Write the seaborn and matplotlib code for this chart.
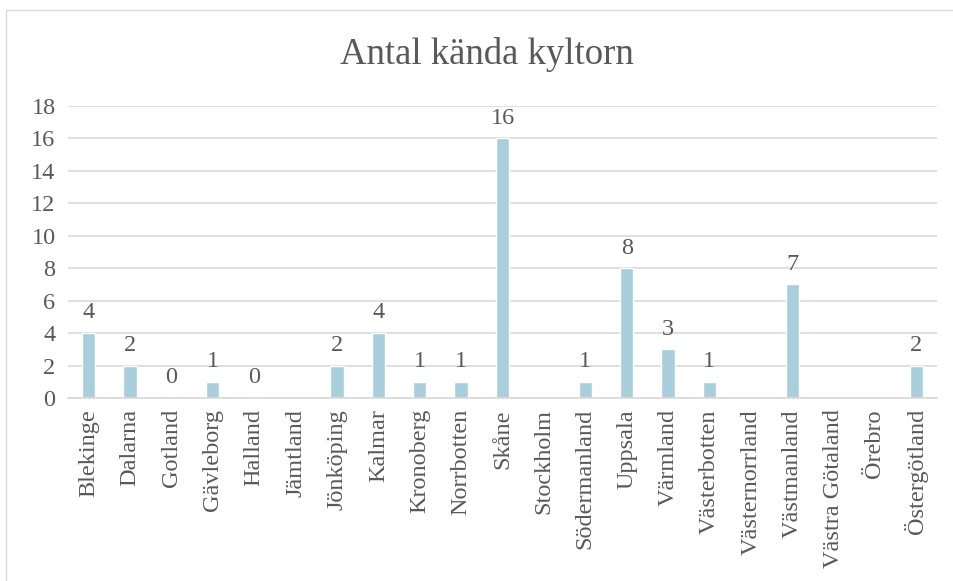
import numpy as np
import pandas as pd
import seaborn as sns
import matplotlib.pyplot as plt
from matplotlib.patches import Rectangle

regions = ['Blekinge', 'Dalarna', 'Gotland', 'Gävleborg', 'Halland', 'Jämtland',
           'Jönköping', 'Kalmar', 'Kronoberg', 'Norrbotten', 'Skåne', 'Stockholm',
           'Södermanland', 'Uppsala', 'Värmland', 'Västerbotten', 'Västernorrland',
           'Västmanland', 'Västra Götaland', 'Örebro', 'Östergötland']
counts = [4, 2, 0, 1, 0, np.nan, 2, 4, 1, 1, 16, np.nan,
          1, 8, 3, 1, np.nan, 7, np.nan, np.nan, 2]
yticks = [0, 2, 4, 6, 8, 10, 12, 14, 16, 18]

df = pd.DataFrame({'region': regions, 'antal': counts}).dropna()

sns.set_style('white')
plt.rcParams['font.family'] = ['Liberation Serif', 'DejaVu Serif']
text_col = '#595959'

fig = plt.figure(figsize=(9.54, 5.81), dpi=100)
ax = fig.add_axes([68 / 954, 1 - 398 / 581, (937 - 68) / 954, (398 - 106) / 581])

sns.barplot(data=df, x='region', y='antal', order=regions, color='#A9CFDC',
            width=0.32, saturation=1, ax=ax)
ax.bar_label(ax.containers[0], fmt='%d', padding=7, fontsize=17.5, color=text_col)

ax.set_ylim(0, 18)
ax.set_xlim(-0.5, len(regions) - 0.5)
ax.set_yticks(yticks)
ax.yaxis.grid(True, color='#D9D9D9', linewidth=1.2)
ax.set_axisbelow(True)
for s in ['top', 'right', 'left']:
    ax.spines[s].set_visible(False)
ax.spines['bottom'].set_color('#D9D9D9')
ax.spines['bottom'].set_linewidth(1.2)
ax.tick_params(axis='x', rotation=90, labelsize=17.5, colors=text_col, length=0, pad=8)
ax.tick_params(axis='y', labelsize=17.5, colors=text_col, length=0, pad=9)
ax.set_xlabel('')
ax.set_ylabel('')

fig.text(487 / 954, 1 - 54 / 581, 'Antal kända kyltorn', ha='center', va='center',
         fontsize=26.5, color=text_col)

# outer chart-area border (open to the right and bottom, as cropped)
fig.patches.append(Rectangle((6 / 954, -0.05), 1.0, 1.05 - 10 / 581,
                             transform=fig.transFigure, fill=False,
                             edgecolor='#D9D9D9', linewidth=1))

fig.savefig('out.png', dpi=100)
